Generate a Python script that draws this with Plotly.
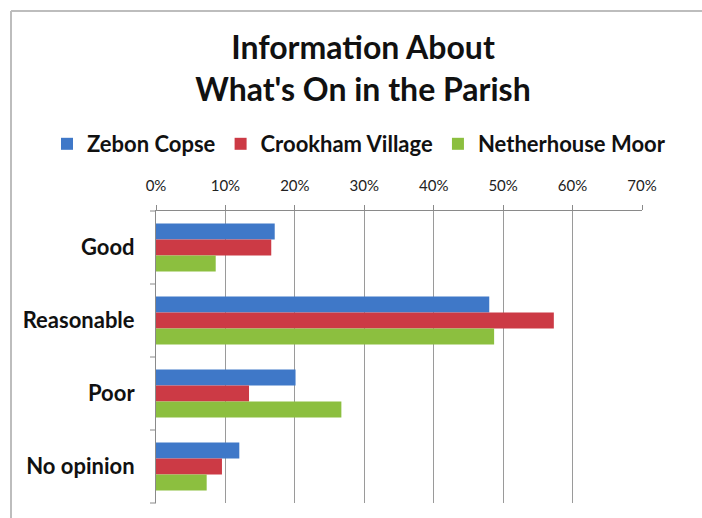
import plotly.graph_objects as go

categories = ["Good", "Reasonable", "Poor", "No opinion"]
series_names = ["Zebon Copse", "Crookham Village", "Netherhouse Moor"]
zebon = [17.1, 48.0, 20.1, 12.0]
crookham = [16.6, 57.3, 13.4, 9.5]
netherhouse = [8.6, 48.7, 26.7, 7.3]
colors = ["#3f78c8", "#cc3a45", "#8cbf3f"]
x_ticks = [0, 10, 20, 30, 40, 50, 60, 70]

W, H = 702, 518
L, R, T, B = 156, 60, 211, 15

fig = go.Figure()
for name, vals, col in zip(series_names, [zebon, crookham, netherhouse], colors):
    fig.add_trace(go.Bar(
        y=categories, x=vals, name=name, orientation="h",
        marker=dict(color=col, line=dict(width=0)),
    ))

pw = W - L - R
ph = H - T - B
fig.update_layout(
    width=W, height=H,
    margin=dict(l=L, r=R, t=T, b=B, autoexpand=False),
    paper_bgcolor="white", plot_bgcolor="white",
    barmode="group", bargap=0.34, bargroupgap=0,
    font=dict(family="Lato, Open Sans, sans-serif", color="#1a1a1a"),
    title=dict(
        text="<b>Information About<br>What's On in the Parish</b>",
        x=363 / W, xanchor="center", xref="container",
        y=1 - 59 / H, yanchor="middle", yref="container",
        font=dict(size=32, color="#111111"),
    ),
    legend=dict(
        orientation="h", traceorder="normal",
        x=(47 - L) / pw, xanchor="left", xref="paper",
        y=1 + (T - 144) / ph, yanchor="middle", yref="paper",
        font=dict(size=22, color="#111111", weight="bold"),
        itemwidth=30,
        bgcolor="rgba(0,0,0,0)",
    ),
    xaxis=dict(
        side="top", range=[0, 70], tickvals=x_ticks,
        ticktext=[f"{v}%" for v in x_ticks],
        showgrid=True, gridcolor="#9a9a9a", gridwidth=1,
        showline=True, linecolor="#8a8a8a", linewidth=1,
        ticks="outside", ticklen=5, tickcolor="#8a8a8a",
        tickfont=dict(size=15, color="#222222"),
        ticklabelstandoff=8,
        zeroline=False, fixedrange=True, automargin=False,
    ),
    yaxis=dict(
        autorange="reversed",
        showline=True, linecolor="#8a8a8a", linewidth=1,
        ticks="", showgrid=False,
        tickfont=dict(size=22, color="#111111", weight="bold"),
        ticklabelstandoff=16, automargin=False,
    ),
)

# category boundary ticks on the left axis
for i in range(len(categories) + 1):
    yy = i / len(categories)
    fig.add_shape(type="line", xref="paper", yref="paper",
                  x0=-6 / pw, x1=0, y0=1 - yy, y1=1 - yy,
                  line=dict(color="#8a8a8a", width=1))

# chart frame (left and top edges)
fig.add_shape(type="line", xref="paper", yref="paper",
              x0=(11 - L) / pw, x1=(11 - L) / pw,
              y0=(H - B - 530) / ph, y1=(H - B - 11) / ph,
              line=dict(color="#bdbdbd", width=2))
fig.add_shape(type="line", xref="paper", yref="paper",
              x0=(11 - L) / pw, x1=(705 - L) / pw,
              y0=(H - B - 11) / ph, y1=(H - B - 11) / ph,
              line=dict(color="#bdbdbd", width=2))

fig.write_html("out.html", config={"displayModeBar": False},
               post_script="document.body.style.margin='0px';")
